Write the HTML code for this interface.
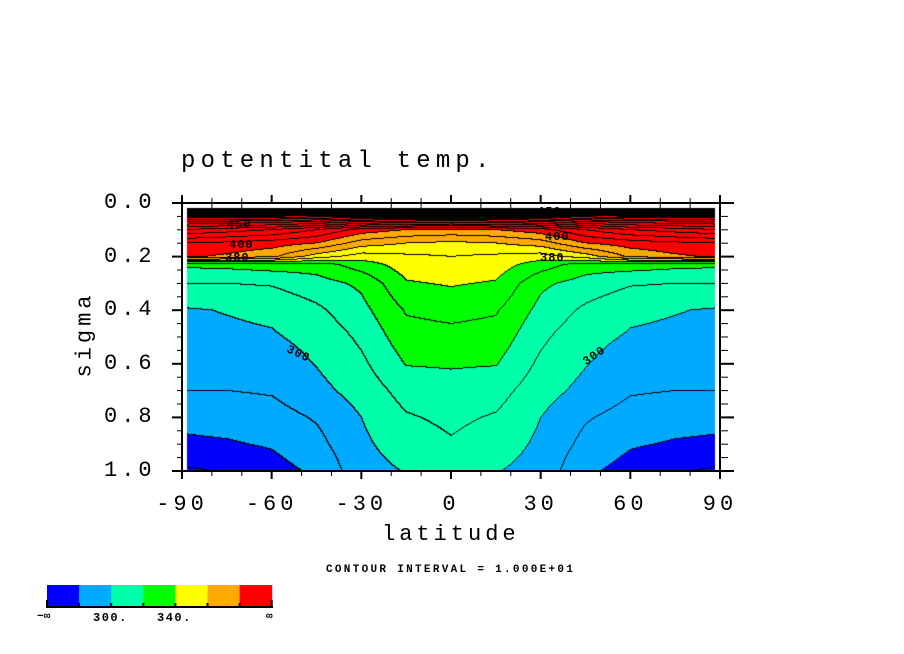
<!DOCTYPE html>
<html><head><meta charset="utf-8">
<style>
body{margin:0;background:#fff;width:904px;height:654px;position:relative;overflow:hidden;font-family:"Liberation Mono",monospace;}
.t{position:absolute;white-space:nowrap;color:#000;}
.ax{font-size:22px;letter-spacing:4px;}
canvas{position:absolute;left:0;top:0;}
</style></head><body>
<canvas id="c" width="904" height="654"></canvas>
<svg id="s" width="904" height="654" style="position:absolute;left:0;top:0"></svg>
<div class="t" style="left:181px;top:148px;font-size:24px;letter-spacing:5.2px">potentital temp.</div>
<div class="t ax" style="left:40px;top:322px;transform:rotate(-90deg);transform-origin:center;width:90px;text-align:center">sigma</div>
<div class="t ax" style="left:382px;top:522px">latitude</div>
<div class="t" style="left:326px;top:564px;font-size:11px;font-weight:bold;letter-spacing:2.3px">CONTOUR INTERVAL = 1.000E+01</div>
<div id="labels"></div>
<script>
const sig=[0.02,0.05,0.07,0.1,0.15,0.2,0.23,0.3,0.4,0.5,0.6,0.7,0.8,0.9,1.0];
const lats=[-90,-75,-60,-45,-30,-15,0,15,30,45,60,75,90];
// theta per sigma level, columns lat 0,15,30,45,60,75,90 (mirrored)
const half=[
[700,700,700,700,700,700,700],
[470,470,470,475,480,480,480],
[425,427,430,440,445,448,450],
[378,380,386,400,410,415,420],
[358,360,365,380,385,388,390],
[350,348,345,355,372,378,382],
[347,345,335,325,325,323,322],
[341,339,322,316,311,310,310],
[333,331,317,308,302,300.5,299],
[327,326,312,303,299,298,297],
[321,320.5,308,300.5,295,294,294],
[316,314,304,297,291,290,290],
[312,309,300,291,286,284,283],
[309,305,298,287,281,279,278],
[305,300.5,296,282,276,271,268]];
const theta=half.map(r=>r.slice(1).reverse().concat(r));
const bounds=[280,300,320,340,360,380];
const colors=["#0000ff","#00aaff","#00ffaa","#00ff00","#ffff00","#ffaa00","#ff0000"];
const xTicks=[-90,-60,-30,0,30,60,90];
const yTicks=[0,0.2,0.4,0.6,0.8,1.0];
const X0=182,X1=720,Y0=203,Y1=471;
const xs=l=>X0+(l+90)/180*(X1-X0);
const ys=s=>Y0+s*(Y1-Y0);
function interp(arr,v){let i=0;while(i<arr.length-2&&v>arr[i+1])i++;let t=(v-arr[i])/(arr[i+1]-arr[i]);return[i,Math.max(0,Math.min(1,t))];}
function th(lat,s){const[i,a]=interp(lats,lat);const[j,b]=interp(sig,s);
const v00=theta[j][i],v01=theta[j][i+1],v10=theta[j+1][i],v11=theta[j+1][i+1];
return (v00*(1-a)+v01*a)*(1-b)+(v10*(1-a)+v11*a)*b;}
function rgb(h){return[parseInt(h.substr(1,2),16),parseInt(h.substr(3,2),16),parseInt(h.substr(5,2),16)];}
const cv=document.getElementById('c'),ctx=cv.getContext('2d');
const px0=187,px1=715,py0=ys(sig[0])|0,py1=Y1;
const W=px1-px0,H=py1-py0;
const grid=[];
for(let y=0;y<=H+1;y++){const row=[];const s=sig[0]+(y/H)*(1-sig[0]);for(let x=0;x<=W;x++){const lat=-88.5+x/W*177;row.push(th(lat,s));}grid.push(row);}
const img=ctx.createImageData(W,H);
for(let y=0;y<H;y++)for(let x=0;x<W;x++){const v=grid[y][x];let k=0;while(k<bounds.length&&v>=bounds[k])k++;
let c=rgb(colors[k]);const l=Math.floor(v/10);
if(Math.floor(grid[y][x+1]/10)!==l||Math.floor(grid[y+1][x]/10)!==l)c=[0,0,0];
const o=(y*W+x)*4;img.data[o]=c[0];img.data[o+1]=c[1];img.data[o+2]=c[2];img.data[o+3]=255;}
ctx.putImageData(img,px0,py0);
// axes
const S=document.getElementById('s');const NS="http://www.w3.org/2000/svg";
function ln(x1,y1,x2,y2,w,name){const e=document.createElementNS(NS,'line');e.setAttribute('x1',x1);e.setAttribute('y1',y1);e.setAttribute('x2',x2);e.setAttribute('y2',y2);e.setAttribute('stroke','#000');e.setAttribute('stroke-width',w);


S.appendChild(e);}
const fr=document.createElementNS(NS,'rect');fr.setAttribute('x',X0);fr.setAttribute('y',Y0);fr.setAttribute('width',X1-X0);fr.setAttribute('height',Y1-Y0);fr.setAttribute('fill','none');fr.setAttribute('stroke','#000');fr.setAttribute('stroke-width',2);


S.appendChild(fr);
for(let l=-90;l<=90;l+=10){const x=xs(l);const maj=xTicks.includes(l);
ln(x,Y1,x,Y1+(maj?8:5),maj?2:1,'x-tick');ln(x,Y0,x,Y0-(maj?8:5),maj?2:1,'x-tick-top');if(!maj)ln(x,Y0,x,Y0+5,1,'x-minor-inner');}
for(let s=0;s<=1.001;s+=0.05){const y=ys(s);const maj=yTicks.some(v=>Math.abs(v-s)<1e-6);
ln(X0,y,X0-(maj?10:5),y,maj?2:1,'y-tick');ln(X1,y,X1+(maj?14:8),y,maj?2:1,'y-tick-right');}
const L=document.getElementById('labels');
function lab(txt,x,y,cls,name,extra){const d=document.createElement('div');d.className='t '+cls;d.textContent=txt;d.style.left=x+'px';d.style.top=y+'px';if(extra)d.style.cssText+=extra;


L.appendChild(d);return d;}
xTicks.forEach(v=>{const d=lab(String(v),xs(v),492,'ax','x-tick-label');d.style.transform='translateX(-50%)';});
yTicks.forEach(v=>{lab(v.toFixed(1),104,ys(v)-13,'ax','y-tick-label');});
// contour labels
const cl=[["450",227,218],["400",229,238],["380",225,251],["450",537,205],["400",545,230],["380",540,251]];
cl.forEach(c=>lab(c[0],c[1],c[2],'','contour-label','font-size:12px;font-weight:bold;letter-spacing:1px;'));
lab("300",286,347,'','contour-label-300','font-size:12px;font-weight:bold;letter-spacing:1px;transform:rotate(25deg)');
lab("300",582,349,'','contour-label-300','font-size:12px;font-weight:bold;letter-spacing:1px;transform:rotate(-35deg)');
// colorbar
colors.forEach((c,i)=>{const r=document.createElementNS(NS,'rect');r.setAttribute('x',47+i*32.1);r.setAttribute('y',585);r.setAttribute('width',32.6);r.setAttribute('height',21);r.setAttribute('fill',c);


S.appendChild(r);});
ln(46,607,273,607,2,'colorbar-base');
for(let i=0;i<=7;i++){ln(47+i*32.1,(i%7===0)?600:603,47+i*32.1,607,2,'colorbar-tick');}
lab("−∞",37,611,'','colorbar-label','font-size:11px;font-weight:bold');
lab("300.",93,611,'','colorbar-label','font-size:12px;font-weight:bold;letter-spacing:1.5px');
lab("340.",157,611,'','colorbar-label','font-size:12px;font-weight:bold;letter-spacing:1.5px');
lab("∞",266,611,'','colorbar-label','font-size:11px;font-weight:bold');
</script>
</body></html>
